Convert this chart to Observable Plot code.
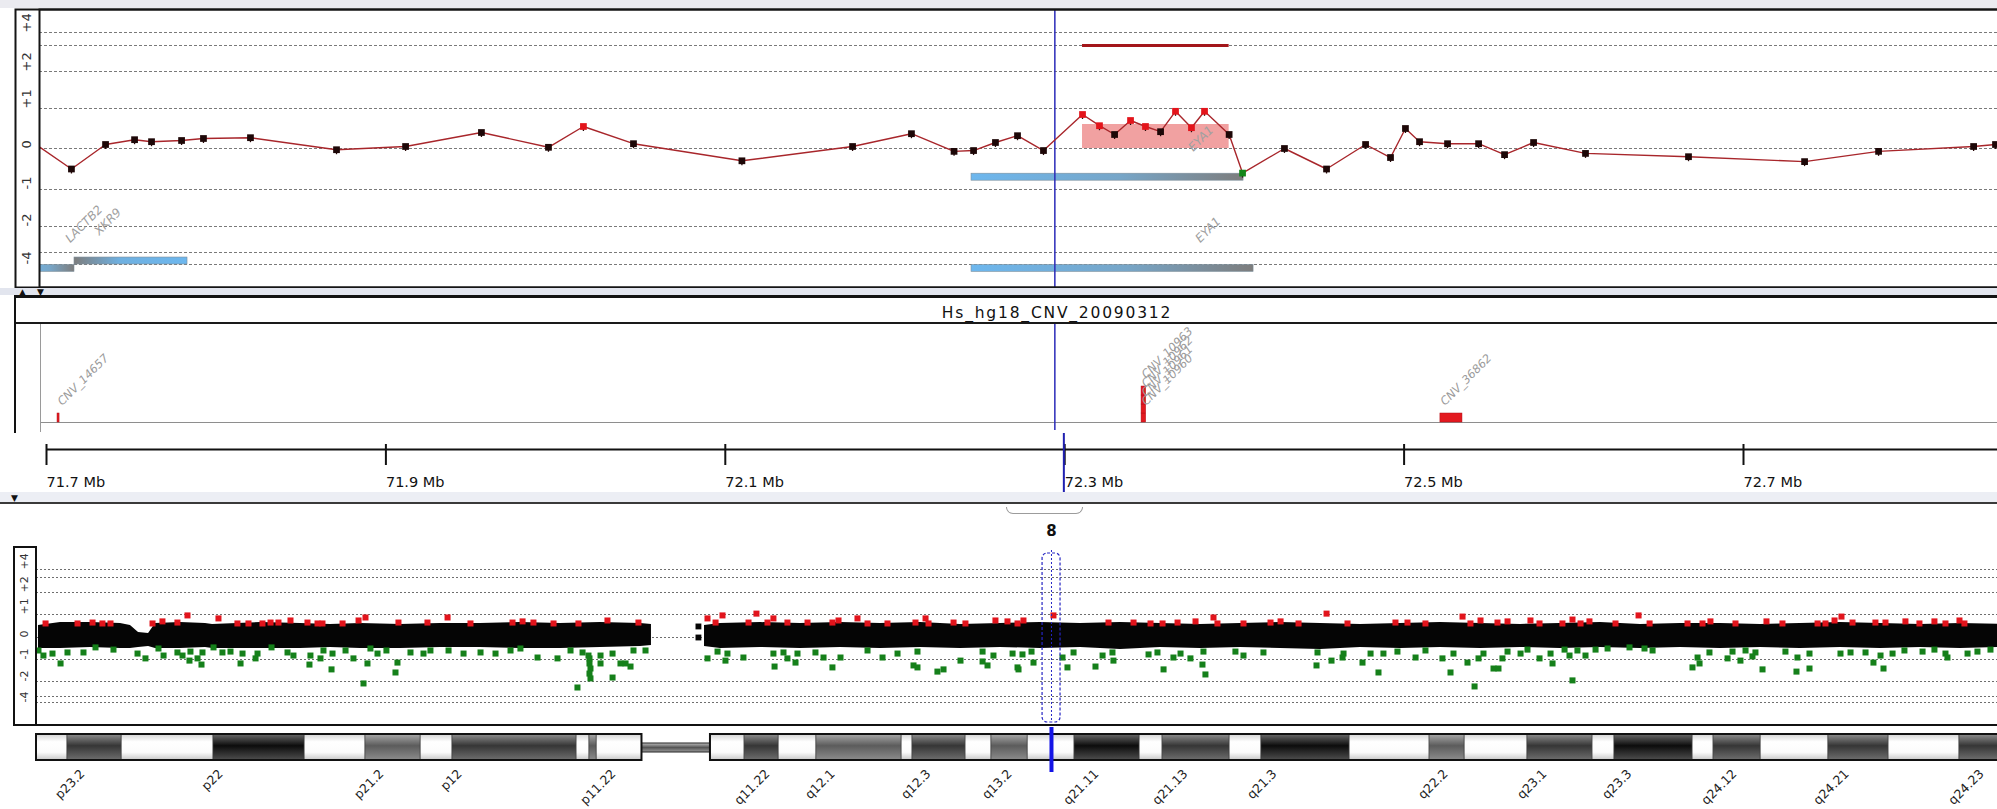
<!DOCTYPE html>
<html>
<head>
<meta charset="utf-8">
<title>chr8 aCGH view</title>
<script src="https://cdn.jsdelivr.net/npm/d3@7"></script>
<script src="https://cdn.jsdelivr.net/npm/@observablehq/plot@0.6"></script>
<style>
  html, body { margin: 0; padding: 0; background: #fff; }
  #view { position: relative; width: 1997px; height: 809px; overflow: hidden; background: #fff; font-family: "DejaVu Sans", sans-serif; }
  #view > svg { position: absolute; left: 0; }
  .chrome { position: absolute; box-sizing: border-box; }
  .tri { position: absolute; font-size: 9px; line-height: 9px; color: #111; }
</style>
</head>
<body>
<div id="view"></div>
<script>
// ---------------- zoomed window, chr8 ~71.70–72.85 Mb ----------------
const probeMb = [71.6905, 71.7200, 71.7401, 71.7572, 71.7672, 71.7849, 71.7978, 71.8255, 71.8762, 71.9169,
  71.9616, 72.0011, 72.0217, 72.0512, 72.1151, 72.1803, 72.2150, 72.2401, 72.2516, 72.2645,
  72.2775, 72.2928, 72.3158, 72.3258, 72.3347, 72.3441, 72.3529, 72.3618, 72.3706, 72.3800,
  72.3877, 72.4022, 72.4101, 72.4348, 72.4596, 72.4826, 72.4973, 72.5061, 72.5144, 72.5309,
  72.5492, 72.5645, 72.5816, 72.6122, 72.6729, 72.7413, 72.7849, 72.8409, 72.8538];
const probeLogRatio = [0.35, -0.50, 0.10, 0.22, 0.17, 0.20, 0.25, 0.27, -0.03, 0.05,
  0.40, 0.03, 0.55, 0.12, -0.30, 0.05, 0.37, -0.07, -0.05, 0.15,
  0.32, -0.05, 0.85, 0.57, 0.35, 0.70, 0.55, 0.42, 0.93, 0.52,
  0.93, 0.35, -0.60, 0.00, -0.50, 0.10, -0.22, 0.50, 0.17, 0.12,
  0.12, -0.15, 0.15, -0.12, -0.20, -0.32, -0.07, 0.05, 0.10];
const probeCall = ["normal", "normal", "normal", "normal", "normal", "normal", "normal", "normal", "normal", "normal",
  "normal", "normal", "gain", "normal", "normal", "normal", "normal", "normal", "normal", "normal",
  "normal", "normal", "gain", "gain", "normal", "gain", "gain", "normal", "gain", "gain",
  "gain", "normal", "loss", "normal", "normal", "normal", "normal", "normal", "normal", "normal",
  "normal", "normal", "normal", "normal", "normal", "normal", "normal", "normal", "normal"];

const aberrationStart = [72.3158];
const aberrationEnd = [72.4022];
const aberrationMean = [0.6];

const cursorMb = 72.2995;

const geneName = ["LACTB2", "XKR9", "EYA1", "EYA1"];
const geneStart = [71.6900, 71.7218, 72.2504, 72.2504];
const geneEnd = [71.7218, 71.7884, 72.4107, 72.4166];
const geneLane = [-4.17, -3.71, -0.70, -4.17];
const geneStrand = ["+", "-", "+", "+"];
const geneLabelMb = [71.7177, 71.7348, 72.3794, 72.3836];

const cnvTrackName = "Hs_hg18_CNV_20090312";
const cnvId = ["CNV_14657", "CNV_10960", "CNV_10961", "CNV_10962", "CNV_10963", "CNV_36862"];
const cnvStart = [71.7118, 72.3506, 72.3506, 72.3506, 72.3506, 72.5267];
const cnvEnd = [71.7130, 72.3533, 72.3533, 72.3533, 72.3533, 72.5397];

const rulerTicks = [71.7, 71.9, 72.1, 72.3, 72.5, 72.7];

const ratioStops = [-5, -4, -3, -2, -1, 0, 1, 2, 3, 4, 5];
const ratioGrid = [-4, -3, -2, -1, 0, 1, 2, 3, 4];
const ratioTicks = [4, 2, 1, 0, -1, -2, -4];

// ---------------- whole chromosome 8 overview ----------------
const chromName = "8";
const overviewCursorMb = 71.73;
const overviewWindow = [71.10, 72.37];

// dense body of probes (envelope of the black cloud), p arm and q arm
const pCloudMb = [0.14, 1.70, 3.82, 5.94, 6.64, 7.21, 7.92, 8.41, 10.18, 11.94, 12.44, 15.83, 18.66, 20.78, 22.90, 25.72, 28.55, 31.38, 34.20, 37.03, 39.86, 42.69, 43.46];
const pCloudHi = [0.52, 0.65, 0.65, 0.61, 0.52, 0.22, 0.17, 0.61, 0.65, 0.61, 0.57, 0.65, 0.61, 0.57, 0.61, 0.57, 0.61, 0.61, 0.65, 0.61, 0.65, 0.61, 0.57];
const pCloudLo = [-0.50, -0.50, -0.45, -0.50, -0.50, -0.45, -0.41, -0.50, -0.50, -0.45, -0.50, -0.50, -0.50, -0.45, -0.50, -0.50, -0.45, -0.45, -0.50, -0.50, -0.45, -0.41, -0.36];
const qCloudMb = [47.21, 48.34, 51.17, 53.99, 56.82, 59.65, 62.47, 65.30, 68.13, 70.95, 73.78, 76.61, 79.43, 82.26, 85.09, 87.92, 90.74, 93.57, 96.40, 99.22, 102.05, 104.88, 107.70, 110.53, 113.36, 116.18, 119.01, 121.84, 124.66, 127.49, 130.32, 133.14, 135.97, 138.80];
const qCloudHi = [0.52, 0.61, 0.65, 0.61, 0.65, 0.61, 0.65, 0.57, 0.61, 0.65, 0.61, 0.65, 0.61, 0.57, 0.61, 0.65, 0.61, 0.57, 0.61, 0.65, 0.61, 0.57, 0.61, 0.65, 0.57, 0.61, 0.61, 0.57, 0.61, 0.65, 0.61, 0.57, 0.61, 0.57];
const qCloudLo = [-0.41, -0.50, -0.45, -0.50, -0.45, -0.50, -0.45, -0.50, -0.45, -0.50, -0.45, -0.55, -0.45, -0.50, -0.45, -0.50, -0.55, -0.45, -0.50, -0.45, -0.50, -0.45, -0.50, -0.45, -0.50, -0.45, -0.50, -0.45, -0.50, -0.45, -0.50, -0.45, -0.50, -0.45];
const strayMb = [46.78, 46.78];
const strayLogRatio = [0.48, 0.00];

const gainMb = [0.64, 2.90, 3.96, 4.66, 5.23, 8.20, 8.90, 9.96, 10.67, 12.86, 14.20, 14.98, 15.97, 16.54, 17.10, 17.95, 19.15, 19.86, 20.21, 21.63,
  22.76, 23.25, 25.58, 27.63, 29.05, 30.67, 33.64, 34.35, 35.12, 36.54, 38.30, 40.35, 42.54, 47.42, 47.99, 48.48, 50.32, 50.88, 51.66, 52.08,
  53.07, 54.49, 56.25, 56.68, 58.02, 58.73, 60.14, 62.12, 62.83, 63.04, 64.81, 65.65, 67.77, 68.62, 69.33, 69.75, 71.87, 75.76, 77.53, 78.73,
  79.58, 80.64, 81.91, 83.18, 83.46, 85.30, 87.21, 87.92, 89.19, 91.17, 92.65, 96.04, 96.89, 98.16, 100.78, 101.34, 102.05, 103.25, 103.96, 105.58,
  106.22, 107.84, 108.55, 109.12, 109.75, 111.59, 113.22, 114.00, 116.68, 117.74, 118.30, 120.07, 122.26, 123.39, 125.87, 126.43, 127.07, 127.56, 128.34, 129.96,
  130.67, 132.08, 133.07, 134.13, 134.91, 135.90, 136.25];
const gainLogRatio = [0.61, 0.61, 0.65, 0.61, 0.61, 0.61, 0.70, 0.65, 0.96, 0.83, 0.61, 0.61, 0.61, 0.65, 0.65, 0.74, 0.65, 0.61, 0.61, 0.61,
  0.74, 0.87, 0.65, 0.65, 0.87, 0.61, 0.65, 0.70, 0.65, 0.61, 0.61, 0.74, 0.65, 0.83, 0.65, 0.96, 0.65, 1.04, 0.65, 0.83,
  0.65, 0.65, 0.65, 0.74, 0.83, 0.61, 0.61, 0.65, 0.83, 0.61, 0.65, 0.61, 0.74, 0.70, 0.61, 0.74, 0.96, 0.65, 0.65, 0.61,
  0.61, 0.65, 0.70, 0.87, 0.61, 0.61, 0.65, 0.70, 0.61, 1.04, 0.61, 0.65, 0.65, 0.61, 0.91, 0.61, 0.74, 0.65, 0.70, 0.74,
  0.61, 0.61, 0.78, 0.61, 0.70, 0.61, 0.96, 0.61, 0.61, 0.61, 0.70, 0.61, 0.70, 0.61, 0.61, 0.61, 0.74, 0.91, 0.65, 0.65,
  0.65, 0.70, 0.61, 0.70, 0.61, 0.74, 0.61];

const lossMb = [0.14, 0.49, 1.13, 1.70, 2.19, 3.32, 4.17, 5.44, 7.14, 7.70, 8.62, 8.98, 9.96, 10.32, 10.81, 10.88, 11.38, 11.66, 11.73, 12.51,
  13.14, 13.71, 14.42, 14.56, 15.48, 15.62, 16.61, 17.74, 18.16, 19.36, 19.29, 20.07, 20.28, 20.92, 20.85, 21.84, 22.40, 23.11, 23.39, 23.60,
  24.10, 24.73, 25.37, 25.51, 26.43, 27.35, 27.84, 29.12, 30.18, 31.38, 32.44, 33.50, 34.20, 35.41, 36.82, 37.74, 38.59, 39.01, 39.08, 39.08,
  39.15, 39.08, 39.15, 38.23, 39.86, 39.86, 40.71, 40.71, 41.27, 41.63, 41.98, 42.19, 43.04, 47.42, 48.13, 48.83, 48.69, 49.96, 52.08, 52.16,
  52.79, 53.07, 53.64, 53.78, 55.05, 55.62, 56.25, 56.82, 58.73, 59.79, 60.85, 61.98, 62.26, 62.26, 63.67, 64.10, 65.30, 66.86, 66.86, 67.21,
  67.63, 68.98, 69.33, 69.68, 69.40, 70.32, 70.46, 72.51, 72.86, 73.29, 74.84, 75.34, 76.11, 76.04, 78.59, 79.22, 79.65, 80.35, 80.85, 81.55,
  82.40, 82.61, 82.47, 84.73, 85.30, 86.71, 90.53, 90.46, 91.52, 92.37, 92.30, 93.71, 94.28, 94.84, 95.19, 96.18, 97.46, 98.16, 99.36, 99.93,
  100.14, 101.13, 101.63, 101.91, 102.26, 102.97, 103.32, 103.60, 103.96, 104.88, 105.37, 106.22, 107.00, 107.14, 107.99, 108.34, 108.55, 108.90, 109.47, 110.18,
  111.03, 112.58, 113.64, 114.21, 117.03, 117.39, 117.53, 118.23, 119.51, 119.86, 120.42, 120.78, 121.27, 121.48, 121.98, 123.60, 124.45, 124.38, 125.30, 125.30,
  127.49, 128.20, 129.26, 129.82, 130.32, 130.53, 131.17, 132.01, 133.29, 134.13, 134.91, 135.05, 136.47, 137.17, 138.09];
const lossLogRatio = [-0.59, -0.82, -0.73, -1.18, -0.68, -0.68, -0.45, -0.55, -0.73, -0.95, -0.50, -0.82, -0.68, -0.82, -1.05, -0.64, -0.95, -1.23, -0.68, -0.45,
  -0.68, -0.64, -1.18, -0.73, -0.95, -0.73, -0.45, -0.68, -0.82, -0.82, -1.23, -0.95, -0.59, -0.73, -1.45, -0.59, -0.95, -2.13, -1.18, -0.50,
  -0.73, -0.59, -1.59, -1.14, -0.68, -0.73, -0.59, -0.59, -0.73, -0.68, -0.73, -0.59, -0.50, -0.91, -0.95, -0.59, -0.68, -0.82, -0.95, -1.18,
  -1.41, -1.64, -1.86, -2.40, -0.82, -1.18, -0.73, -1.82, -1.18, -1.18, -1.32, -0.59, -0.59, -0.95, -0.64, -0.73, -1.05, -0.91, -0.73, -1.32,
  -0.68, -0.95, -1.14, -0.73, -0.68, -0.91, -1.36, -0.91, -0.59, -0.91, -0.73, -1.27, -1.36, -0.64, -1.55, -1.45, -1.05, -0.64, -1.09, -1.27,
  -0.82, -0.73, -1.36, -0.77, -1.45, -0.64, -1.14, -0.91, -1.36, -0.68, -1.32, -0.82, -1.05, -0.68, -0.77, -0.68, -1.45, -0.91, -0.73, -0.95,
  -1.23, -1.68, -0.64, -0.64, -0.82, -0.68, -0.68, -1.27, -1.05, -0.73, -0.91, -1.14, -0.73, -1.59, -0.73, -0.64, -0.91, -0.59, -0.95, -1.59,
  -0.73, -1.14, -2.33, -0.95, -0.73, -1.41, -1.41, -0.95, -0.64, -0.73, -0.55, -0.95, -0.73, -1.18, -0.55, -0.82, -1.95, -0.59, -0.82, -0.55,
  -0.50, -0.45, -0.50, -0.59, -1.36, -0.91, -1.18, -0.68, -0.95, -0.64, -1.05, -0.59, -0.86, -0.68, -1.45, -0.64, -0.91, -1.55, -1.41, -0.73,
  -0.73, -0.68, -0.68, -1.14, -0.82, -1.41, -0.73, -0.59, -0.64, -0.55, -0.73, -0.91, -0.73, -0.64, -0.55];

// chromosome 8 ideogram: bands and stain class (w = gneg, m/d/k = light/dark/darkest gpos)
const bandStart = [0, 2.19, 6.01, 12.51, 18.94, 23.25, 27.14, 29.40, 38.16, 39.08, 39.58,
  47.63, 50.04, 52.44, 55.12, 61.13, 61.91, 65.65, 67.49, 70.04, 73.36, 77.95, 79.58, 84.31, 86.57, 92.79, 98.45, 100.92, 105.37, 109.96, 111.52, 117.03, 118.52, 121.84, 126.64, 130.88, 135.90];
const bandEnd = [2.19, 6.01, 12.51, 18.94, 23.25, 27.14, 29.40, 38.16, 39.08, 39.58, 42.79,
  50.04, 52.44, 55.12, 61.13, 61.91, 65.65, 67.49, 70.04, 73.36, 77.95, 79.58, 84.31, 86.57, 92.79, 98.45, 100.92, 105.37, 109.96, 111.52, 117.03, 118.52, 121.84, 126.64, 130.88, 135.90, 141.0];
const bandStain = ["w", "d", "w", "k", "w", "m", "w", "d", "w", "m", "w",
  "w", "d", "w", "m", "w", "d", "w", "m", "w", "k", "w", "d", "w", "k", "w", "m", "w", "d", "w", "k", "w", "d", "w", "d", "w", "d"];
const armStart = [0, 47.63];
const armEnd = [42.79, 141.0];
const centromere = [42.79, 47.63];
const bandLabel = ["p23.2", "p22", "p21.2", "p12", "p11.22", "q11.22", "q12.1", "q12.3", "q13.2", "q21.11",
  "q21.13", "q21.3", "q22.2", "q23.1", "q23.3", "q24.12", "q24.21", "q24.23"];
const bandLabelMb = [3.46, 13.22, 24.59, 30.11, 40.99, 51.87, 56.47, 63.25, 68.98, 75.12,
  81.41, 87.70, 99.79, 106.78, 112.79, 120.21, 128.13, 137.67];

// ---------------- tables for the marks ----------------
const probes = probeMb.map((mb, i) => ({mb, lr: probeLogRatio[i], call: probeCall[i]}));
const aberrations = aberrationStart.map((s, i) => ({start: s, end: aberrationEnd[i], mean: aberrationMean[i]}));
const genes = geneName.map((name, i) => ({name, start: geneStart[i], end: geneEnd[i], lane: geneLane[i], strand: geneStrand[i], labelAt: geneLabelMb[i]}));
// stack overlapping CNV entries one above another
const cnvs = [];
cnvId.forEach((id, i) => {
  const row = cnvs.filter(c => c.start < cnvEnd[i] && c.end > cnvStart[i]).length;
  cnvs.push({id, start: cnvStart[i], end: cnvEnd[i], row});
});
const pCloud = pCloudMb.map((mb, i) => ({mb, hi: pCloudHi[i], lo: pCloudLo[i]}));
const qCloud = qCloudMb.map((mb, i) => ({mb, hi: qCloudHi[i], lo: qCloudLo[i]}));
const strays = strayMb.map((mb, i) => ({mb, lr: strayLogRatio[i]}));
const gains = gainMb.map((mb, i) => ({mb, lr: gainLogRatio[i]}));
const losses = lossMb.map((mb, i) => ({mb, lr: lossLogRatio[i]}));
const bands = bandStart.map((s, i) => ({start: s, end: bandEnd[i], stain: bandStain[i]}));
const arms = armStart.map((s, i) => ({start: s, end: armEnd[i]}));
const labels = bandLabel.map((name, i) => ({name, mb: bandLabelMb[i]}));

const W = 1997;
const FONT = "DejaVu Sans, Verdana, sans-serif";
const signed = d => (d > 0 ? "+" + d : String(d));
const view = document.getElementById("view");

// The log-ratio axis is compressed towards its ends: a piecewise warp turns
// ratios into display units, which the linear y scale then maps to pixels.
const warpZoom = d3.scaleLinear().domain(ratioStops).range([0, 23, 35, 61, 98, 139, 179, 216, 242, 255, 278]);
const warpOverview = d3.scaleLinear().domain(ratioStops).range([0, 23, 29, 44, 66, 88, 111, 133, 148, 156, 178]);

function place(svg, top) {
  svg.style.top = top + "px";
  view.appendChild(svg);
  return svg;
}
function addDefs(svg, html) {
  d3.select(svg).insert("defs", ":first-child").html(html);
}

// ---------------- zoomed log-ratio panel ----------------
const zoomPanel = Plot.plot({
  width: W, height: 297,
  marginTop: 9, marginBottom: 10, marginLeft: 39, marginRight: 0,
  style: {background: "transparent", fontFamily: FONT, overflow: "hidden"},
  x: {domain: [71.7, 72.7], range: [37, 1734], axis: null},
  y: {transform: warpZoom, domain: [0, 278], range: [287, 9], axis: null},
  color: {domain: ["normal", "gain", "loss"], range: ["#1d0707", "#e3141b", "#14861a"]},
  marks: [
    Plot.ruleY(ratioGrid, {stroke: "#7a7a7a", strokeDasharray: "3,2", strokeWidth: 1}),
    Plot.rect(aberrations, {x1: "start", x2: "end", y1: 0, y2: "mean", fill: "#ee9090", fillOpacity: 0.85}),
    Plot.rect(genes.filter(g => g.strand === "+"), {x1: "start", x2: "end", y1: "lane", y2: "lane", insetTop: -3.5, insetBottom: -3.5, fill: "url(#geneFwd)", stroke: "#7e8f9c", strokeWidth: 0.6, clip: true}),
    Plot.rect(genes.filter(g => g.strand === "-"), {x1: "start", x2: "end", y1: "lane", y2: "lane", insetTop: -3.5, insetBottom: -3.5, fill: "url(#geneRev)", stroke: "#7e8f9c", strokeWidth: 0.6, clip: true}),
    Plot.text(genes, {x: "labelAt", y: "lane", dy: -28, text: "name", rotate: -45, textAnchor: "start", lineAnchor: "middle", fontSize: 12, fontStyle: "italic", fill: "#a0a0a0"}),
    Plot.ruleX([cursorMb], {stroke: "#2b2bb8", strokeWidth: 1.5}),
    Plot.line(probes, {x: "mb", y: "lr", stroke: "#a8262b", strokeWidth: 1.4, clip: true}),
    Plot.ruleX(probes, {x: "mb", y1: "lr", y2: "lr", insetBottom: -5, stroke: "#2a0b0b", strokeWidth: 1.3, clip: true}),
    Plot.dot(probes, {x: "mb", y: "lr", symbol: "square", r: 3.8, fill: "call", clip: true}),
    Plot.ruleY(aberrations, {x1: "start", x2: "end", y: 3, stroke: "#a3161a", strokeWidth: 3}),
    Plot.frame({stroke: "#151515", strokeWidth: 2, insetLeft: -24, insetRight: -3}),
    Plot.frame({stroke: "#151515", strokeWidth: 2, insetRight: -3}),
    Plot.text(ratioTicks, {y: d => d, text: signed, frameAnchor: "left", lineAnchor: "middle", dx: -13, rotate: -90, fontSize: 13, fill: "#333"})
  ]
});
addDefs(zoomPanel, `
  <linearGradient id="geneFwd" x1="0" y1="0" x2="1" y2="0">
    <stop offset="0" stop-color="#6db7ee"/><stop offset="0.55" stop-color="#77a6c8"/><stop offset="1" stop-color="#7d7d7d"/>
  </linearGradient>
  <linearGradient id="geneRev" x1="0" y1="0" x2="1" y2="0">
    <stop offset="0" stop-color="#7d7d7d"/><stop offset="0.4" stop-color="#6fb0e0"/><stop offset="1" stop-color="#6db7ee"/>
  </linearGradient>`);
place(zoomPanel, 0);

// ---------------- CNV annotation track ----------------
const cnvPanel = Plot.plot({
  width: W, height: 139,
  marginTop: 29, marginBottom: 11, marginLeft: 40, marginRight: 0,
  style: {background: "transparent", fontFamily: FONT, overflow: "hidden"},
  x: {domain: [71.7, 72.7], range: [37, 1734], axis: null},
  y: {domain: [0, 11], range: [128, 29], axis: null},
  marks: [
    Plot.ruleY([0], {stroke: "#8e8e8e", strokeWidth: 1.2}),
    Plot.ruleX([cursorMb], {stroke: "#2b2bb8", strokeWidth: 1.5, insetBottom: -8}),
    Plot.rect(cnvs, {x1: "start", x2: "end", y1: "row", y2: d => d.row + 1, fill: "#e3191f", stroke: "#b01018", strokeWidth: 0.5}),
    Plot.text(cnvs, {x: "start", y: d => d.row + 1, dy: -10, dx: 2, text: "id", rotate: -45, textAnchor: "start", lineAnchor: "middle", fontSize: 11.5, fontStyle: "italic", fill: "#9a9a9a"}),
    Plot.text([cnvTrackName], {frameAnchor: "top", lineAnchor: "middle", dy: -10, dx: 38, fontSize: 15.5, fill: "#111"})
  ]
});
d3.select(cnvPanel).selectAll("text").filter(function () { return this.textContent === cnvTrackName; }).attr("letter-spacing", 1.8);
place(cnvPanel, 294);

// ---------------- Mb ruler ----------------
const ruler = Plot.plot({
  width: W, height: 70,
  marginTop: 16, marginBottom: 6, marginLeft: 46, marginRight: 0,
  style: {background: "transparent", fontFamily: FONT, overflow: "hidden"},
  x: {domain: [71.7, 72.7], range: [46, 1743], axis: null},
  y: {domain: [0, 1], range: [16, 64], axis: null},
  marks: [
    Plot.ruleY([0], {stroke: "#111", strokeWidth: 2}),
    Plot.ruleX(rulerTicks, {stroke: "#111", strokeWidth: 2, insetTop: -5, insetBottom: 32}),
    Plot.text(rulerTicks, {x: d => d, y: 0, dy: 33, text: d => d.toFixed(1) + " Mb", textAnchor: "start", lineAnchor: "middle", fontSize: 14.5, fill: "#111"}),
    Plot.ruleX([cursorMb], {stroke: "#2020b0", strokeWidth: 2, insetTop: -16, insetBottom: -4})
  ]
});
place(ruler, 433);

// ---------------- chromosome overview ----------------
const overview = Plot.plot({
  width: W, height: 224,
  marginTop: 44, marginBottom: 2, marginLeft: 36, marginRight: 0,
  style: {background: "transparent", fontFamily: FONT, overflow: "hidden"},
  x: {domain: [0, 100], range: [36, 1451], axis: null},
  y: {transform: warpOverview, domain: [0, 178], range: [222, 44], axis: null},
  marks: [
    Plot.ruleY(ratioGrid, {stroke: "#6e6e6e", strokeDasharray: "2,2", strokeWidth: 1}),
    Plot.areaY(pCloud, {x: "mb", y1: "lo", y2: "hi", fill: "#050505"}),
    Plot.areaY(qCloud, {x: "mb", y1: "lo", y2: "hi", fill: "#050505"}),
    Plot.dot(strays, {x: "mb", y: "lr", symbol: "square", r: 3.3, fill: "#050505"}),
    Plot.dot(losses, {x: "mb", y: "lr", symbol: "square", r: 3.4, fill: "#15801a"}),
    Plot.dot(gains, {x: "mb", y: "lr", symbol: "square", r: 3.4, fill: "#e2141c"}),
    Plot.rect([overviewWindow], {x1: d => d[0], x2: d => d[1], insetTop: 6, insetBottom: 3, rx: 5, fill: "none", stroke: "#2626c4", strokeWidth: 1.2, strokeDasharray: "3,2"}),
    Plot.ruleX([overviewCursorMb], {stroke: "#2626c4", strokeWidth: 1, strokeDasharray: "2,2", insetTop: 3, insetBottom: 3}),
    Plot.text([chromName], {x: (overviewWindow[0] + overviewWindow[1]) / 2, frameAnchor: "top", lineAnchor: "middle", dy: -16, fontSize: 15, fontWeight: "bold", fill: "#111"}),
    Plot.text(ratioTicks, {y: d => d, text: signed, frameAnchor: "left", lineAnchor: "middle", dx: -12, rotate: -90, fontSize: 11, fill: "#333"})
  ]
});
place(overview, 503);

// ---------------- ideogram ----------------
const ideoMarks = [
  Plot.rect([centromere], {x1: d => d[0], x2: d => d[1], insetTop: 9, insetBottom: 8, fill: "url(#ideo-c)", stroke: "#222", strokeWidth: 1})
];
for (const s of ["w", "m", "d", "k"]) {
  ideoMarks.push(Plot.rect(bands.filter(b => b.stain === s), {x1: "start", x2: "end", fill: `url(#ideo-${s})`, stroke: "#3a3a3a", strokeWidth: 0.6}));
}
ideoMarks.push(
  Plot.rect(arms, {x1: "start", x2: "end", fill: "none", stroke: "#111", strokeWidth: 2}),
  Plot.ruleX([overviewCursorMb], {stroke: "#1414e6", strokeWidth: 4, insetTop: -7, insetBottom: -12}),
  Plot.text(labels, {x: "mb", text: "name", frameAnchor: "bottom", lineAnchor: "bottom", dy: 14, rotate: -45, textAnchor: "end", fontSize: 12.5, fill: "#222"})
);
const ideogram = Plot.plot({
  width: W, height: 84,
  marginTop: 9, marginBottom: 49, marginLeft: 36, marginRight: 0,
  style: {background: "transparent", fontFamily: FONT, overflow: "hidden"},
  x: {domain: [0, 100], range: [36, 1451], axis: null},
  marks: ideoMarks
});
addDefs(ideogram, `
  <linearGradient id="ideo-w" x1="0" y1="0" x2="0" y2="1">
    <stop offset="0" stop-color="#d4d4d4"/><stop offset="0.3" stop-color="#ffffff"/><stop offset="0.7" stop-color="#fbfbfb"/><stop offset="1" stop-color="#c8c8c8"/>
  </linearGradient>
  <linearGradient id="ideo-m" x1="0" y1="0" x2="0" y2="1">
    <stop offset="0" stop-color="#a9a9a9"/><stop offset="0.45" stop-color="#5c5c5c"/><stop offset="1" stop-color="#8c8c8c"/>
  </linearGradient>
  <linearGradient id="ideo-d" x1="0" y1="0" x2="0" y2="1">
    <stop offset="0" stop-color="#8e8e8e"/><stop offset="0.45" stop-color="#363636"/><stop offset="1" stop-color="#6e6e6e"/>
  </linearGradient>
  <linearGradient id="ideo-k" x1="0" y1="0" x2="0" y2="1">
    <stop offset="0" stop-color="#6a6a6a"/><stop offset="0.45" stop-color="#0c0c0c"/><stop offset="1" stop-color="#4e4e4e"/>
  </linearGradient>
  <linearGradient id="ideo-c" x1="0" y1="0" x2="0" y2="1">
    <stop offset="0" stop-color="#bdbdbd"/><stop offset="0.5" stop-color="#555"/><stop offset="1" stop-color="#9a9a9a"/>
  </linearGradient>`);
place(ideogram, 725);

// ---------------- window chrome: strips, borders, handles ----------------
const chrome = [
  {left: 0, top: 0, width: W, height: 8, background: "#ebebf0"},
  {left: 0, top: 288, width: W, height: 7, background: "#e2e5ee"},
  {left: 14, top: 295, width: W - 14, height: 3, background: "#121212"},
  {left: 14, top: 322, width: W - 14, height: 2, background: "#1a1a1a"},
  {left: 14, top: 295, width: 2, height: 138, background: "#121212"},
  {left: 40, top: 324, width: 1, height: 108, background: "#9a9a9a"},
  {left: 0, top: 492, width: W, height: 10, background: "#eceef4"},
  {left: 0, top: 502, width: W, height: 2, background: "#3a3a3a"},
  {left: 13, top: 546, width: 24, height: 180, border: "2px solid #111"},
  {left: 13, top: 724, width: W - 13, height: 2, background: "#111"},
  {left: 1006, top: 507, width: 77, height: 7, border: "1.5px solid #9c9c9c", borderTop: "none", borderRadius: "0 0 8px 8px"}
];
for (const c of chrome) {
  const div = document.createElement("div");
  div.className = "chrome";
  for (const [k, v] of Object.entries(c)) div.style[k] = typeof v === "number" ? v + "px" : v;
  view.appendChild(div);
}
for (const [glyph, left, top] of [["\u25B2", 19, 288], ["\u25BC", 37, 288], ["\u25BC", 11, 494]]) {
  const t = document.createElement("div");
  t.className = "tri";
  t.textContent = glyph;
  t.style.left = left + "px";
  t.style.top = top + "px";
  view.appendChild(t);
}
</script>
</body>
</html>
